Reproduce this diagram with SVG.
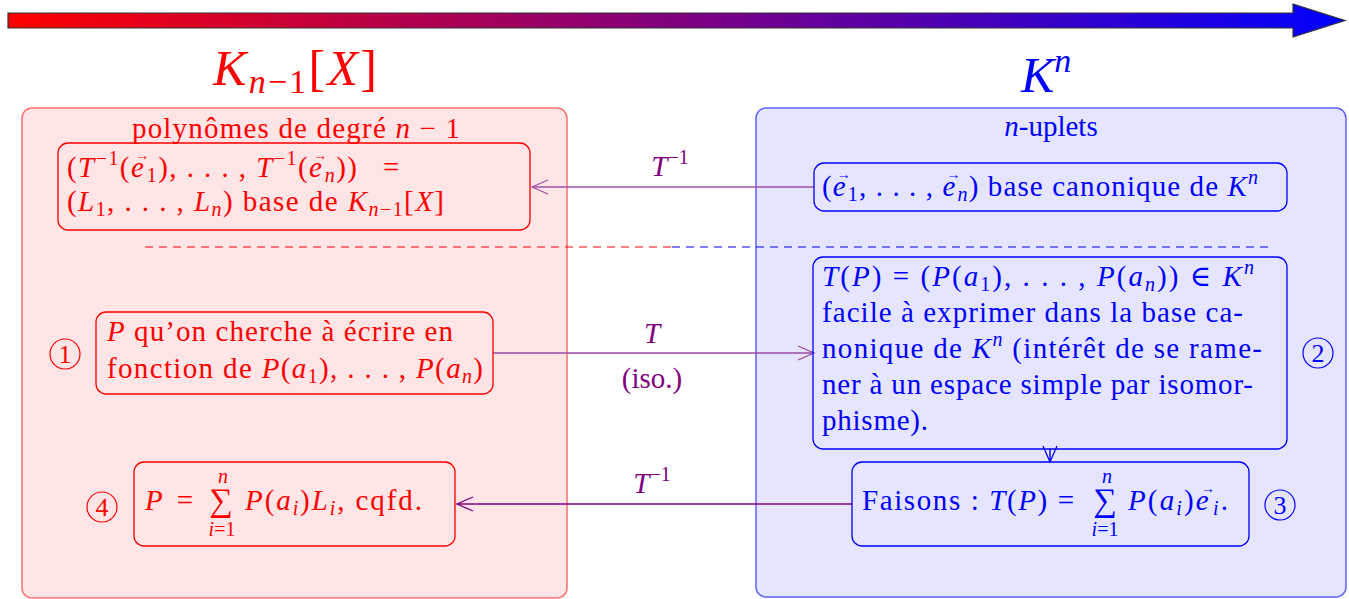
<svg xmlns="http://www.w3.org/2000/svg" width="1349" height="599" viewBox="0 0 1349 599">
<style>
text{font-family:"Liberation Serif","DejaVu Serif",serif;font-size:29px}
.r{fill:#ff0000}.b{fill:#0000ff}.p{fill:#800080}
.i{font-style:italic}
.sm{font-size:20px}
.ac{font-size:14px;font-style:normal}
.node{stroke-width:1.3}
.rn{fill:none;stroke:#ff0000}.bn{fill:none;stroke:#0000ff}
.cr{fill:none;stroke:#ff0000;stroke-width:1.2}.cb{fill:none;stroke:#0000ff;stroke-width:1.2}
.num{font-size:26px}
.conn{fill:none;stroke-width:1.4}
.sig{font-size:33px}
</style>
<defs>
<linearGradient id="g" x1="0" x2="1" y1="0" y2="0">
<stop offset="0" stop-color="#ff0000"/><stop offset="1" stop-color="#0000ff"/>
</linearGradient>
<marker id="oa" viewBox="0 0 20 20" refX="18" refY="10" markerWidth="20" markerHeight="20" markerUnits="userSpaceOnUse" orient="auto">
<path d="M2,3 L18,10 L2,17" fill="none" stroke="context-stroke" stroke-width="1.3"/>
</marker>
</defs>
<g id="top-arrow">
<path d="M8,13 H1293 V4 L1345,20.5 L1293,37 V28 H8 Z" fill="url(#g)" stroke="#333" stroke-width="1.2"/>
</g>
<g id="left-space">
<rect x="22" y="108" width="545" height="490" rx="10" fill="#ffe5e5" stroke="#ff7070" stroke-width="1.5"/>
<text x="213" y="85" class="r" style="font-size:50px" textLength="164"><tspan class="i">K</tspan><tspan class="i" dy="8" style="font-size:34px">n</tspan><tspan style="font-size:34px">−1</tspan><tspan dy="-8">[</tspan><tspan class="i">X</tspan><tspan>]</tspan></text>
<text x="132" y="138" class="r" textLength="328">polynômes de degré <tspan class="i">n</tspan> − 1</text>
</g>
<g id="right-space">
<rect x="756" y="108" width="590" height="489" rx="10" fill="#e5e5ff" stroke="#6060ff" stroke-width="1.5"/>
<text x="1021" y="92" class="b" style="font-size:50px"><tspan class="i">K</tspan><tspan class="i" dy="-20" style="font-size:34px">n</tspan></text>
<text x="1051" y="136" class="b" text-anchor="middle"><tspan class="i">n</tspan>-uplets</text>
</g>
<g id="separator">
<line x1="145" y1="247" x2="672" y2="247" stroke="#ff0000" stroke-dasharray="8,6" stroke-width="1"/>
<line x1="672" y1="247" x2="1270" y2="247" stroke="#0000ff" stroke-dasharray="8,6" stroke-width="1"/>
</g>
<g id="connectors">
<line class="conn" x1="814" y1="187" x2="532" y2="187" stroke="#a050a8" marker-end="url(#oa)"/>
<text x="670" y="176" class="p" text-anchor="middle"><tspan class="i">T</tspan><tspan class="sm" dy="-12">−1</tspan></text>
<line class="conn" x1="493" y1="353" x2="814" y2="353" stroke="#9a4aa0" marker-end="url(#oa)"/>
<text x="652" y="343" class="p i" text-anchor="middle">T</text>
<text x="652" y="388" class="p" text-anchor="middle">(iso.)</text>
<line class="conn" x1="1050" y1="449" x2="1050" y2="462" stroke="#0000ff" marker-end="url(#oa)"/>
<line class="conn" x1="852" y1="504" x2="457" y2="504" stroke="#800080" marker-end="url(#oa)"/>
<text x="652" y="493" class="p" text-anchor="middle"><tspan class="i">T</tspan><tspan class="sm" dy="-12">−1</tspan></text>
</g>
<g id="node-L-basis">
<rect class="node rn" x="58" y="143" width="472" height="87" rx="10"/>
<text x="67" y="177" class="r" textLength="290"><tspan>(</tspan><tspan class="i">T</tspan><tspan class="sm" dy="-12">−1</tspan><tspan dy="12">(</tspan><tspan class="i">e</tspan><tspan class="ac" dx="-10" dy="-17">→</tspan><tspan class="sm" dx="-4" dy="22">1</tspan><tspan dy="-5">), . . . , </tspan><tspan class="i">T</tspan><tspan class="sm" dy="-12">−1</tspan><tspan dy="12">(</tspan><tspan class="i">e</tspan><tspan class="ac" dx="-10" dy="-17">→</tspan><tspan class="sm i" dx="-4" dy="22">n</tspan><tspan dy="-5">))</tspan></text>
<text x="383" y="177" class="r">=</text>
<text x="67" y="211" class="r" textLength="377"><tspan>(</tspan><tspan class="i">L</tspan><tspan class="sm" dy="5">1</tspan><tspan dy="-5">, . . . , </tspan><tspan class="i">L</tspan><tspan class="sm i" dy="5">n</tspan><tspan dy="-5">) base de </tspan><tspan class="i">K</tspan><tspan class="sm" dy="5"><tspan class="i">n</tspan>−1</tspan><tspan dy="-5">[</tspan><tspan class="i">X</tspan><tspan>]</tspan></text>
</g>
<g id="node-canonical">
<rect class="node bn" x="814" y="163" width="473" height="48" rx="10"/>
<text x="822" y="196" class="b" textLength="436"><tspan>(</tspan><tspan class="i">e</tspan><tspan class="ac" dx="-10" dy="-17">→</tspan><tspan class="sm" dx="-4" dy="22">1</tspan><tspan dy="-5">, . . . , </tspan><tspan class="i">e</tspan><tspan class="ac" dx="-10" dy="-17">→</tspan><tspan class="sm i" dx="-4" dy="22">n</tspan><tspan dy="-5">) base canonique de </tspan><tspan class="i">K</tspan><tspan class="sm i" dy="-12">n</tspan></text>
</g>
<g id="node-1">
<rect class="node rn" x="96" y="312" width="397" height="82" rx="10"/>
<text x="107" y="341" class="r" textLength="346"><tspan class="i">P</tspan> qu’on cherche à écrire en</text>
<text x="107" y="378" class="r" textLength="376">fonction de <tspan class="i">P</tspan>(<tspan class="i">a</tspan><tspan class="sm" dy="5">1</tspan><tspan dy="-5">), . . . , </tspan><tspan class="i">P</tspan>(<tspan class="i">a</tspan><tspan class="sm i" dy="5">n</tspan><tspan dy="-5">)</tspan></text>
<circle class="cr" cx="65" cy="354" r="15"/>
<text x="65" y="363" class="r num" text-anchor="middle">1</text>
</g>
<g id="node-2">
<rect class="node bn" x="813" y="257" width="474" height="192" rx="10"/>
<text x="822" y="286" class="b" textLength="432"><tspan class="i">T</tspan>(<tspan class="i">P</tspan>) = (<tspan class="i">P</tspan>(<tspan class="i">a</tspan><tspan class="sm" dy="5">1</tspan><tspan dy="-5">), . . . , </tspan><tspan class="i">P</tspan>(<tspan class="i">a</tspan><tspan class="sm i" dy="5">n</tspan><tspan dy="-5">)) ∈ </tspan><tspan class="i">K</tspan><tspan class="sm i" dy="-12">n</tspan></text>
<text x="822" y="322" class="b" textLength="421">facile à exprimer dans la base ca-</text>
<text x="822" y="358" class="b" textLength="440">nonique de <tspan class="i">K</tspan><tspan class="sm i" dy="-12">n</tspan><tspan dy="12"> (intérêt de se rame-</tspan></text>
<text x="822" y="394" class="b" textLength="431">ner à un espace simple par isomor-</text>
<text x="822" y="430" class="b" textLength="106">phisme).</text>
<circle class="cb" cx="1318" cy="353" r="15"/>
<text x="1318" y="362" class="b num" text-anchor="middle">2</text>
</g>
<g id="node-3">
<rect class="node bn" x="852" y="462" width="397" height="84" rx="10"/>
<text x="862" y="510" class="b" textLength="212">Faisons : <tspan class="i">T</tspan>(<tspan class="i">P</tspan>) =</text>
<text x="1105" y="511" class="b sig" text-anchor="middle">∑</text>
<text x="1107" y="483" class="b i sm" text-anchor="middle">n</text>
<text x="1105" y="536" class="b sm" text-anchor="middle"><tspan class="i">i</tspan>=1</text>
<text x="1128" y="510" class="b" textLength="100"><tspan class="i">P</tspan>(<tspan class="i">a</tspan><tspan class="sm i" dy="5">i</tspan><tspan dy="-5">)</tspan><tspan class="i">e</tspan><tspan class="ac" dx="-10" dy="-17">→</tspan><tspan class="sm i" dx="-4" dy="22">i</tspan><tspan dy="-5">.</tspan></text>
<circle class="cb" cx="1280" cy="505" r="15"/>
<text x="1280" y="514" class="b num" text-anchor="middle">3</text>
</g>
<g id="node-4">
<rect class="node rn" x="134" y="462" width="321" height="84" rx="10"/>
<text x="145" y="510" class="r" textLength="48"><tspan class="i">P</tspan> =</text>
<text x="221" y="511" class="r sig" text-anchor="middle">∑</text>
<text x="223" y="483" class="r i sm" text-anchor="middle">n</text>
<text x="222" y="536" class="r sm" text-anchor="middle"><tspan class="i">i</tspan>=1</text>
<text x="245" y="510" class="r" textLength="177"><tspan class="i">P</tspan>(<tspan class="i">a</tspan><tspan class="sm i" dy="5">i</tspan><tspan dy="-5">)</tspan><tspan class="i">L</tspan><tspan class="sm i" dy="5">i</tspan><tspan dy="-5">, cqfd.</tspan></text>
<circle class="cr" cx="102" cy="507" r="15"/>
<text x="102" y="516" class="r num" text-anchor="middle">4</text>
</g>
</svg>
